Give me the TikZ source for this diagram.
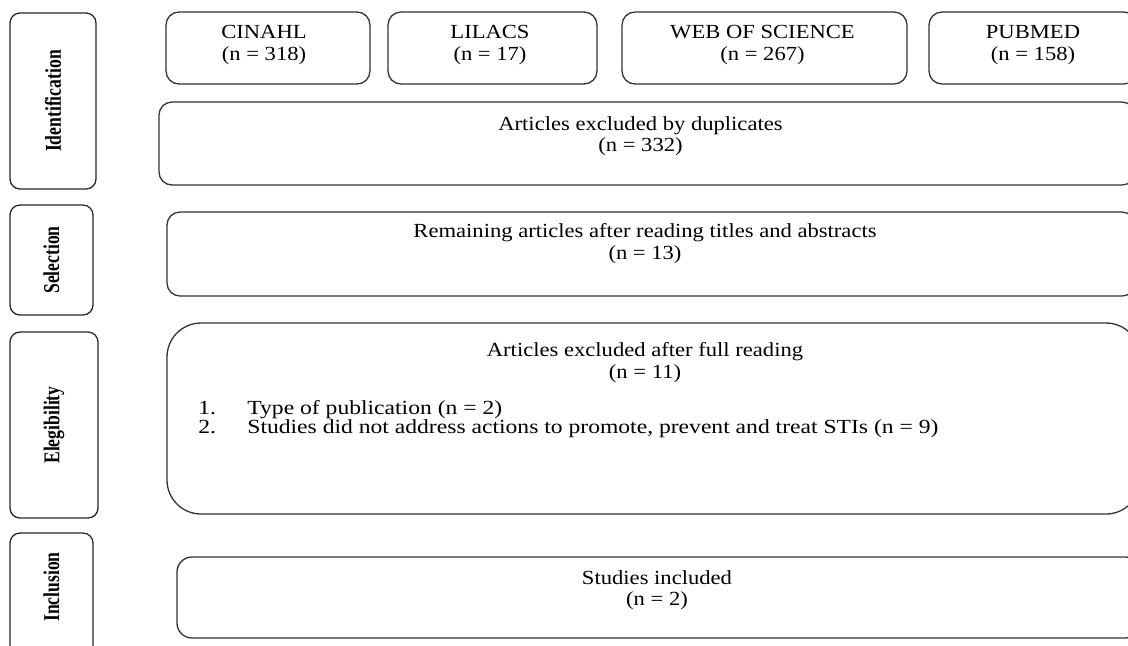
\documentclass[tikz,border=0pt]{standalone}
\usepackage{fontspec}
\setmainfont[FakeStretch=1.13]{Liberation Serif}
\newfontfamily\stagefont[FakeStretch=0.78]{Liberation Serif}
\newfontfamily\listfam[FakeStretch=1.18]{Liberation Serif}
\newcommand\boxfont{\fontsize{10}{10.6}\selectfont\lineskiplimit=-5pt\relax}
\newcommand\listfont{\listfam\fontsize{10}{9.8}\selectfont\lineskiplimit=-5pt\relax}
\usetikzlibrary{positioning}

\begin{document}
\begin{tikzpicture}[x=0.5pt, y=-0.5pt,
    dbbox/.style = {draw=black!80, line width=0.65pt, rounded corners=6.5pt, inner sep=0pt},
    widebox/.style = {draw=black!80, line width=0.65pt, rounded corners=6.5pt, inner sep=0pt},
    txt/.style = {inner sep=0pt, align=center, font=\boxfont},
    stage/.style = {draw=black!85, line width=0.65pt, rounded corners=5pt, inner sep=0pt, rotate=90},
    stagelbl/.style = {font=\stagefont\bfseries\fontsize{11.3}{12}\selectfont}]
    \useasboundingbox (0,0) rectangle (1128,645);
    \clip (0,0) rectangle (1128,645);
    \node[stage, stagelbl, minimum width=88pt, minimum height=43pt] (SIdent) at (53,101) {Identification};
    \node[stage, stagelbl, minimum width=55pt, minimum height=41.5pt] (SSel) at (51.5,260) {Selection};
    \node[stage, stagelbl, minimum width=93pt, minimum height=44pt] (SElig) at (54,425) {Elegibility};
    \node[stage, minimum width=63.5pt, minimum height=41.5pt] (SIncl) at (51.5,596.5) {};
    \node[stagelbl, inner sep=0pt, rotate=90] (SIncltxt) at (51.5,587) {Inclusion};
    \node[dbbox, minimum width=102pt, minimum height=36pt] (DB1) at (268,48) {};
    \node[txt] (DB1txt) at (264,45) {CINAHL\\(n = 318)};
    \node[dbbox, minimum width=104.5pt, minimum height=36pt] (DB2) at (492.5,48) {};
    \node[txt] (DB2txt) at (490,45) {LILACS\\(n = 17)};
    \node[dbbox, minimum width=142.5pt, minimum height=36pt] (DB3) at (764.5,48) {};
    \node[txt] (DB3txt) at (762.5,45) {WEB OF SCIENCE\\(n = 267)};
    \node[dbbox, minimum width=104pt, minimum height=36pt] (DB4) at (1033,48) {};
    \node[txt] (DB4txt) at (1033,45) {PUBMED\\(n = 158)};
    \node[widebox, minimum width=488pt, minimum height=41.5pt] (Dup) at (647,143.5) {};
    \node[txt] (Duptxt) at (640.5,136) {Articles excluded by duplicates\\(n = 332)};
    \node[widebox, minimum width=484pt, minimum height=42pt] (Sel) at (651,254) {};
    \node[txt] (Seltxt) at (645,243.5) {Remaining articles after reading titles and abstracts\\(n = 13)};
    \node[widebox, rounded corners=17pt, minimum width=486.5pt, minimum height=95.5pt] (Elig) at (653.5,418.5) {};
    \node[txt] (Eligtxt) at (645,362.5) {Articles excluded after full reading\\(n = 11)};
    \node[txt, align=left, anchor=west, font=\listfont] (Eliglist) at (198,419) {\makebox[24.5pt][l]{1.}Type of publication (n = 2)\\\makebox[24.5pt][l]{2.}Studies did not address actions to promote, prevent and treat STIs (n = 9)};
    \node[widebox, rounded corners=7.5pt, minimum width=481.5pt, minimum height=40.5pt] (Incl) at (658.5,597.5) {};
    \node[txt] (Incltxt) at (657,590) {Studies included\\(n = 2)};
\end{tikzpicture}
\end{document}
